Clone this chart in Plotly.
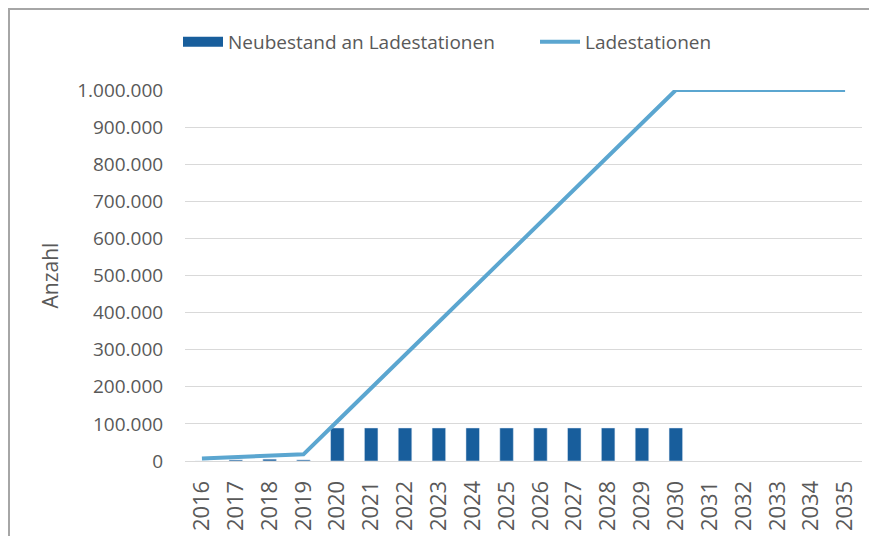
import plotly.graph_objects as go

years = [str(y) for y in range(2016, 2036)]
neubestand = [0, 3000, 5000, 3000, 89000, 89000, 89000, 89000, 89000, 89000,
              89000, 89000, 89000, 89000, 89000, None, None, None, None, None]
ladestationen = [7000, 10000, 15000, 18000, 107000, 196000, 285000, 374000, 463000,
                 552000, 641000, 730000, 819000, 908000, 1000000, 1000000, 1000000,
                 1000000, 1000000, 1000000]

GRAY = "#595959"
BAR = "#185e9c"
LINE = "#5ba6d0"
FONT = "Open Sans, Liberation Sans, sans-serif"

fig = go.Figure()
fig.add_trace(go.Bar(x=years, y=neubestand, name="Neubestand an Ladestationen",
                     marker_color=BAR, width=0.4, showlegend=False,
                     legendgroup="neu"))
# legend entry for bars (wide rectangle symbol)
fig.add_trace(go.Scatter(x=[None], y=[None], name="Neubestand an Ladestationen",
                         mode="lines", line=dict(color=BAR, width=14),
                         legendgroup="neu", legend="legend"))
fig.add_trace(go.Scatter(x=years, y=ladestationen, name="Ladestationen", mode="lines",
                         line=dict(color=LINE, width=4), legend="legend2"))

W, H = 877, 536
OFF = 8  # page body margin
L, R, T, B = 185 - OFF, W - (862 - OFF), 90 - OFF, H - (461 - OFF)
pw = W - L - R
ph = H - T - B

def px(x):
    return (x - OFF - L) / pw

def py(y):
    return (H - B - (y - OFF)) / ph

leg_common = dict(orientation="h", xref="container", yref="container",
                  xanchor="left", yanchor="middle", y=1 - (42 - OFF) / H,
                  itemwidth=40, bgcolor="rgba(0,0,0,0)",
                  font=dict(size=19, color=GRAY, family=FONT))

fig.update_layout(
    width=W, height=H,
    margin=dict(l=L, r=R, t=T, b=B, autoexpand=False),
    paper_bgcolor="white", plot_bgcolor="white",
    separators=",.",
    font=dict(family=FONT, color=GRAY, size=19),
    showlegend=True,
    legend=dict(x=(178 - OFF) / W, **leg_common),
    legend2=dict(x=(535 - OFF) / W, **leg_common),
    xaxis=dict(type="category", tickangle=-90, showgrid=False, showline=True,
               linecolor="#d9d9d9", linewidth=1, ticks="outside", ticklen=10,
               tickcolor="rgba(0,0,0,0)", tickfont=dict(size=22, color=GRAY, family=FONT)),
    yaxis=dict(range=[0, 1000000], dtick=100000, tickformat=",d", showgrid=True,
               gridcolor="#d9d9d9", gridwidth=1, zeroline=False, ticks="outside",
               ticklen=17, tickcolor="rgba(0,0,0,0)",
               tickfont=dict(size=19, color=GRAY, family=FONT),
               title=dict(text="Anzahl", font=dict(size=21, color=GRAY, family=FONT),
                          standoff=12)),
    shapes=[
        dict(type="line", xref="paper", yref="paper", x0=px(8), x1=px(885), y0=py(9), y1=py(9),
             line=dict(color="#a6a6a6", width=2)),
        dict(type="line", xref="paper", yref="paper", x0=px(9), x1=px(9), y0=py(9), y1=py(545),
             line=dict(color="#a6a6a6", width=2)),
    ],
)
fig.write_html("out.html")
